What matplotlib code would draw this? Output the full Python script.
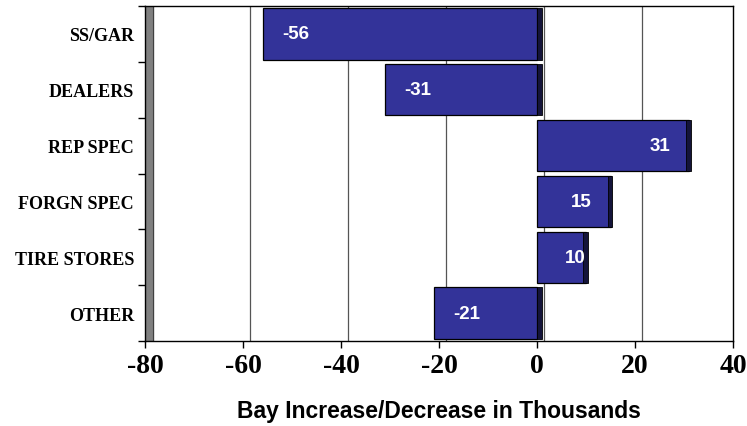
import numpy as np
import matplotlib
matplotlib.use('Agg')
import matplotlib.pyplot as plt
from matplotlib.ticker import FixedLocator

# ── data ─────────────────────────────────────────────────────────────────────

categories = ['SS/GAR', 'DEALERS', 'REP SPEC', 'FORGN SPEC', 'TIRE STORES', 'OTHER']
values = [-56, -31, 31, 15, 10, -21]
xticks = [-80, -60, -40, -20, 0, 20, 40]

BAR = '#333399'
DEPTH = '#14143a'
depth = 1.4  # back wall offset in data units

fig = plt.figure(figsize=(7.47, 4.27), dpi=100)
ax = fig.add_axes([145 / 747, 1 - 342 / 427, (733 - 145) / 747, (342 - 7) / 427])

y = np.arange(len(categories))
ax.set_xlim(-80, 40)
ax.set_ylim(len(categories) - 0.5, -0.5)

# back wall gridlines, shifted right for the 3-D look
for t in xticks[1:-1]:
    ax.axvline(t + depth, color='#555555', linewidth=0.9, zorder=1)
ax.axvspan(-80, -80 + depth + 0.2, color='#808080', zorder=1)
ax.axvline(-80 + depth + 0.2, color='#404040', linewidth=0.8, zorder=1)

# bars with a dark side face
ax.barh(y, values, height=0.92, color=BAR, edgecolor='black', linewidth=0.9, zorder=3)
for yi, v in zip(y, values):
    left = v - 0.6 if v > 0 else 0
    ax.barh(yi, 1.0, left=left, height=0.92, color=DEPTH, edgecolor='black',
            linewidth=0.6, zorder=4)
    if v < 0:
        ax.text(v + 4.0, yi, str(v), color='white', fontsize=13.5, fontweight='bold',
                family='Liberation Sans', ha='left', va='center', zorder=5)
    else:
        ax.text(max(v - 3.8, 10.0), yi, str(v), color='white', fontsize=13.5,
                fontweight='bold', family='Liberation Sans', ha='right', va='center',
                zorder=5)

ax.xaxis.set_major_locator(FixedLocator(xticks))
ax.set_xticklabels([str(t) for t in xticks], fontsize=20, fontweight='bold',
                   family='Liberation Serif')
ax.tick_params(axis='x', length=5, width=1, pad=4, direction='out')

ax.set_yticks(y)
ax.set_yticklabels(categories, fontsize=13, fontweight='bold', family='Liberation Serif')
ax.set_yticks(np.arange(len(categories) + 1) - 0.5, minor=True)
ax.tick_params(axis='y', which='major', length=0, pad=8)
ax.tick_params(axis='y', which='minor', length=5, width=1, direction='out')

ax.set_xlabel('Bay Increase/Decrease in Thousands', fontsize=16.5, fontweight='bold',
              family='Liberation Sans', labelpad=15)

for s in ax.spines.values():
    s.set_color('black')
    s.set_linewidth(1.0)

fig.savefig('out.png', dpi=100)
